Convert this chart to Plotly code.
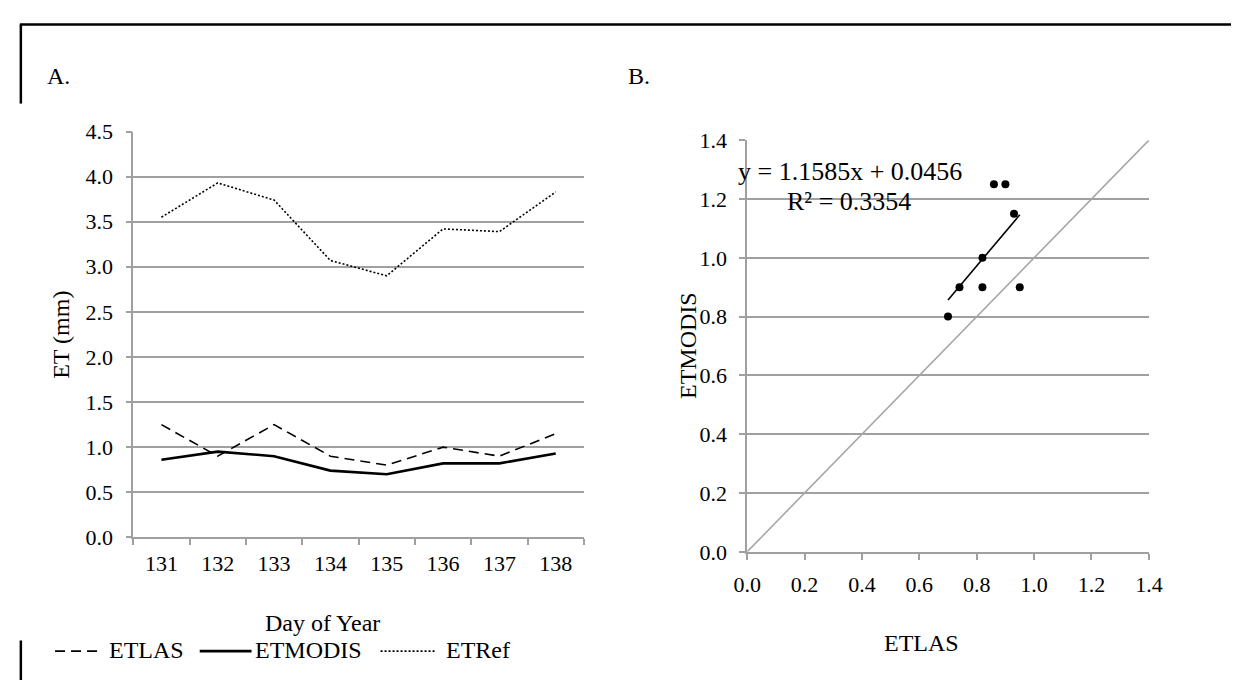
import plotly.graph_objects as go

# Daily evapotranspiration, days of year 131-138
days = ["131", "132", "133", "134", "135", "136", "137", "138"]
et_las = [1.25, 0.9, 1.25, 0.9, 0.8, 1.0, 0.9, 1.15]
et_modis = [0.86, 0.95, 0.9, 0.74, 0.7, 0.82, 0.82, 0.93]
et_ref = [3.55, 3.93, 3.74, 3.07, 2.90, 3.42, 3.39, 3.83]

# Linear fit shown in panel B
fit_slope = 1.1585
fit_intercept = 0.0456
fit_r2 = 0.3354

W, H = 1245, 693
FONT = "Liberation Serif"
GRID = "#a0a0a0"
TICK_SIZE = 22
TEXT_SIZE = 24


def px_x(p):
    return p / W


def px_y(p):
    return 1 - p / H


series_styles = {
    "ETLAS": dict(color="black", width=1.6, dash="10px,6px"),
    "ETMODIS": dict(color="black", width=2.6),
    "ETRef": dict(color="black", width=1.6, dash="2px,2px"),
}

fig = go.Figure()

# Panel A: time series
for name, vals in [("ETLAS", et_las), ("ETMODIS", et_modis), ("ETRef", et_ref)]:
    fig.add_trace(go.Scatter(
        x=days, y=vals, name=name, mode="lines",
        line=series_styles[name], showlegend=False,
        xaxis="x", yaxis="y"))

# Panel B: 1:1 reference line, points and fitted line
fig.add_trace(go.Scatter(
    x=[0, 1.4], y=[0, 1.4], mode="lines", showlegend=False,
    line=dict(color="#a6a6a6", width=1.6),
    xaxis="x2", yaxis="y2"))
fx = [min(et_modis), max(et_modis)]
fy = [fit_slope * v + fit_intercept for v in fx]
fig.add_trace(go.Scatter(
    x=fx, y=fy, mode="lines", showlegend=False,
    line=dict(color="black", width=1.6),
    xaxis="x2", yaxis="y2"))
fig.add_trace(go.Scatter(
    x=et_modis, y=et_las, mode="markers", showlegend=False,
    marker=dict(color="black", size=8),
    xaxis="x2", yaxis="y2"))

axis_common = dict(
    showline=True, linecolor=GRID, linewidth=1.5,
    ticks="outside", ticklen=6, tickcolor=GRID, tickwidth=1.5,
    tickfont=dict(family=FONT, size=TICK_SIZE, color="black"),
    zeroline=False, fixedrange=True,
)
x_common = dict(**axis_common, ticklabelstandoff=6)
y_common = dict(**axis_common, ticklabelstandoff=8)

fig.update_layout(
    width=W, height=H,
    margin=dict(l=0, r=0, t=0, b=0),
    paper_bgcolor="white", plot_bgcolor="white",
    font=dict(family=FONT, size=TEXT_SIZE, color="black"),
    xaxis=dict(
        **x_common, type="category", tickson="boundaries",
        range=[-0.5, 7.5], showgrid=False,
        domain=[px_x(122), px_x(583)], anchor="y",
    ),
    yaxis=dict(
        **y_common, range=[0, 4.5], dtick=0.5, tick0=0,
        tickformat=".1f", showgrid=True, gridcolor=GRID, gridwidth=1.5,
        domain=[px_y(545), px_y(124)], anchor="x",
    ),
    xaxis2=dict(
        **x_common, range=[0, 1.4], dtick=0.2, tick0=0,
        tickformat=".1f", showgrid=False,
        domain=[px_x(750), px_x(1161)], anchor="y2",
    ),
    yaxis2=dict(
        **y_common, range=[0, 1.4], dtick=0.2, tick0=0,
        tickformat=".1f", showgrid=True, gridcolor=GRID, gridwidth=1.5,
        domain=[px_y(560), px_y(133)], anchor="x2",
    ),
    showlegend=False,
)

ann = [
    dict(text="A.", x=px_x(32), y=px_y(66), xanchor="left"),
    dict(text="B.", x=px_x(626), y=px_y(66), xanchor="left"),
    dict(text="ET (mm)", x=px_x(48), y=px_y(335), textangle=-90),
    dict(text="Day of Year", x=px_x(316), y=px_y(634)),
    dict(text="ETMODIS", x=px_x(689), y=px_y(346), textangle=-90),
    dict(text="ETLAS", x=px_x(928), y=px_y(655)),
    dict(text=f"y = {fit_slope}x + {fit_intercept}", x=px_x(855), y=px_y(165), size=26),
    dict(text=f"R² = {fit_r2}", x=px_x(854), y=px_y(197), size=26),
]

# Legend row under panel A: key line followed by series name
legend_items = [("ETLAS", 42, 90, 95), ("ETMODIS", 190, 243, 245), ("ETRef", 375, 432, 440)]
for name, lx0, lx1, tx in legend_items:
    style = series_styles[name]
    fig.add_shape(type="line", xref="paper", yref="paper",
                  x0=px_x(lx0), x1=px_x(lx1), y0=px_y(663), y1=px_y(663),
                  line=style)
    ann.append(dict(text=name, x=px_x(tx), y=px_y(662), xanchor="left"))

for a in ann:
    a.setdefault("xanchor", "center")
    fig.add_annotation(
        xref="paper", yref="paper", showarrow=False, yanchor="middle",
        font=dict(family=FONT, size=a.pop("size", TEXT_SIZE), color="black"),
        **a)

# Frame lines around the figure
frame = dict(type="line", xref="paper", yref="paper",
             line=dict(color="black", width=2.5))
fig.add_shape(**frame, x0=px_x(6), x1=1, y0=px_y(13), y1=px_y(13))
fig.add_shape(**frame, x0=px_x(7), x1=px_x(7), y0=px_y(13), y1=px_y(95))
fig.add_shape(**frame, x0=px_x(7), x1=px_x(7), y0=px_y(652), y1=0)

fig.write_html("out.html")
